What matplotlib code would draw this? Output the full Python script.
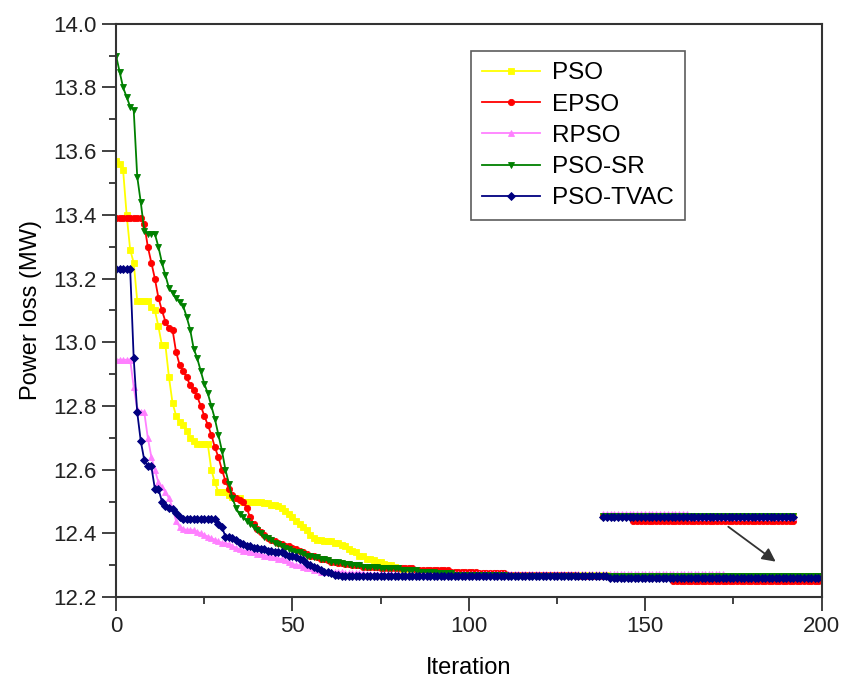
import numpy as np
import matplotlib
matplotlib.use("Agg")
import matplotlib.pyplot as plt
from matplotlib.ticker import MultipleLocator

plt.rcParams['font.family'] = ['Liberation Sans', 'DejaVu Sans']

# best power loss (MW) per iteration 0..200
iterations = np.arange(201)

pso = [13.57, 13.56, 13.54, 13.40, 13.29, 13.25, 13.13, 13.13, 13.13, 13.13,
       13.11, 13.10, 13.05, 12.99, 12.99, 12.89, 12.81, 12.77, 12.75, 12.74,
       12.72, 12.70, 12.69, 12.68, 12.68, 12.68, 12.68, 12.60, 12.56, 12.53,
       12.53, 12.53, 12.52, 12.515, 12.51, 12.51, 12.50, 12.50, 12.50, 12.50,
       12.50, 12.50, 12.495, 12.495, 12.49, 12.49, 12.485, 12.48, 12.47, 12.46,
       12.45, 12.44, 12.43, 12.42, 12.41, 12.395, 12.385, 12.38, 12.38, 12.375,
       12.375, 12.375, 12.37, 12.37, 12.364, 12.36, 12.35, 12.345, 12.34, 12.33,
       12.33, 12.32, 12.32, 12.315, 12.31, 12.31, 12.305, 12.30, 12.30, 12.295,
       12.29, 12.288, 12.285, 12.285, 12.283, 12.28, 12.28, 12.28, 12.278, 12.278] \
      + [12.275] * 10 + [12.27] * 40 + [12.265] * 61

epso = [13.39] * 8 + [13.37, 13.30,
        13.25, 13.20, 13.14, 13.10, 13.065, 13.045, 13.04, 12.97, 12.93, 12.91,
        12.89, 12.865, 12.85, 12.83, 12.80, 12.77, 12.74, 12.71, 12.67, 12.64,
        12.60, 12.565, 12.54, 12.52, 12.51, 12.505, 12.50, 12.48, 12.45, 12.43,
        12.415, 12.405, 12.395, 12.385, 12.38, 12.375, 12.37, 12.365, 12.36, 12.36,
        12.355, 12.35, 12.345, 12.34, 12.335, 12.33, 12.33, 12.325, 12.32, 12.32,
        12.315, 12.31, 12.31, 12.308, 12.306, 12.305, 12.304, 12.302, 12.30, 12.30] \
       + [12.295] * 5 + [12.29] * 10 + [12.285] * 10 + [12.28] * 8 + [12.275] * 8 \
       + [12.27] * 20 + [12.265] * 27 + [12.25] * 43

rpso = [12.945] * 5 + [12.86, 12.79, 12.78, 12.78, 12.70,
        12.64, 12.60, 12.56, 12.545, 12.53, 12.51, 12.48, 12.44, 12.42, 12.415,
        12.41, 12.41, 12.41, 12.405, 12.40, 12.395, 12.39, 12.385, 12.38, 12.375,
        12.37, 12.37, 12.365, 12.36, 12.355, 12.35, 12.345, 12.345, 12.34, 12.34,
        12.335, 12.335, 12.33, 12.33, 12.325, 12.325, 12.32, 12.32, 12.315, 12.31,
        12.305, 12.30, 12.30, 12.295, 12.29, 12.29, 12.285, 12.285, 12.28, 12.28] \
       + [12.278] * 5 + [12.275] * 6 + [12.272] * 102 + [12.262] * 28

pso_sr = [13.90, 13.85, 13.80, 13.77, 13.74, 13.73, 13.52, 13.44, 13.35, 13.34,
          13.34, 13.34, 13.30, 13.25, 13.21, 13.17, 13.155, 13.14, 13.125, 13.115,
          13.08, 13.04, 12.98, 12.95, 12.91, 12.87, 12.84, 12.80, 12.76, 12.71,
          12.66, 12.60, 12.555, 12.51, 12.48, 12.46, 12.45, 12.44, 12.43, 12.42,
          12.41, 12.40, 12.39, 12.385, 12.38, 12.37, 12.365, 12.36, 12.355, 12.35,
          12.345, 12.34, 12.34, 12.335, 12.33, 12.33, 12.325, 12.325, 12.32, 12.32,
          12.315, 12.31, 12.31, 12.31, 12.308, 12.305, 12.305, 12.302, 12.30, 12.30] \
         + [12.295] * 5 + [12.29] * 6 + [12.285] * 5 + [12.28] * 5 + [12.275] * 5 \
         + [12.27] * 15 + [12.265] * 90

pso_tvac = [13.23] * 5 + [12.95, 12.78, 12.69, 12.63, 12.61,
            12.61, 12.54, 12.54, 12.50, 12.485, 12.48, 12.475, 12.465, 12.45, 12.445] \
           + [12.445] * 9 + [12.43,
            12.42, 12.39, 12.39, 12.385, 12.38, 12.37, 12.365, 12.36, 12.36, 12.355,
            12.355, 12.35, 12.35, 12.345, 12.345, 12.34, 12.34, 12.34, 12.335, 12.33,
            12.33, 12.325, 12.32, 12.315, 12.305, 12.30, 12.295, 12.29, 12.285, 12.28,
            12.28, 12.275, 12.27, 12.268, 12.266] + [12.265] * 75 + [12.26] * 61

labels = ['PSO', 'EPSO', 'RPSO', 'PSO-SR', 'PSO-TVAC']
series = [pso, epso, rpso, pso_sr, pso_tvac]
colors = ['#FFFF00', '#FF0000', '#FF80FF', '#008000', '#000080']
markers = ['s', 'o', '^', 'v', 'D']

fig = plt.figure(figsize=(8.41, 6.8), dpi=100)
ax = fig.add_axes([0.138, 0.122, 0.839, 0.843])

for vals, lab, c, m in zip(series, labels, colors, markers):
    ax.plot(iterations, vals, color=c, lw=1.3, marker=m, markersize=4.5,
            markeredgewidth=0.6, label=lab)

# zoomed copy of the tail drawn above the converged lines
tail = iterations >= 150
for vals, c, m in zip(series, colors, markers):
    v = np.array(vals)[tail]
    ax.plot(138 + (iterations[tail] - 150) * 1.08, v + 0.19, color=c, lw=1.3,
            marker=m, markersize=4.5, markeredgewidth=0.6)

ax.annotate('', xy=(187.6, 12.306), xytext=(172.9, 12.426),
            arrowprops=dict(arrowstyle='-|>', color='#333333', lw=1.3,
                            mutation_scale=20))

ax.set_xlim(0, 200)
ax.set_ylim(12.2, 14.0)
ax.xaxis.set_major_locator(MultipleLocator(50))
ax.xaxis.set_minor_locator(MultipleLocator(25))
ax.yaxis.set_major_locator(MultipleLocator(0.2))
ax.yaxis.set_minor_locator(MultipleLocator(0.1))
ax.yaxis.set_major_formatter(matplotlib.ticker.FormatStrFormatter('%.1f'))
ax.tick_params(which='major', direction='out', length=10, width=1.3,
               labelsize=16, colors='#333333', labelcolor='#222222', pad=4)
ax.tick_params(which='minor', direction='out', length=5, width=1.3, colors='#333333')
for s in ax.spines.values():
    s.set_linewidth(1.5)
    s.set_color('#333333')

ax.set_xlabel('Iteration', fontsize=17, labelpad=14)
ax.set_ylabel('Power loss (MW)', fontsize=17, labelpad=8)

leg = ax.legend(loc='upper left', bbox_to_anchor=(0.503, 0.952), fontsize=17.5,
                frameon=True, fancybox=False, edgecolor='#333333',
                handlelength=2.4, handletextpad=0.5, labelspacing=0.38,
                borderpad=0.45, borderaxespad=0)
leg.get_frame().set_linewidth(1.2)

fig.savefig('out.png', dpi=100)
